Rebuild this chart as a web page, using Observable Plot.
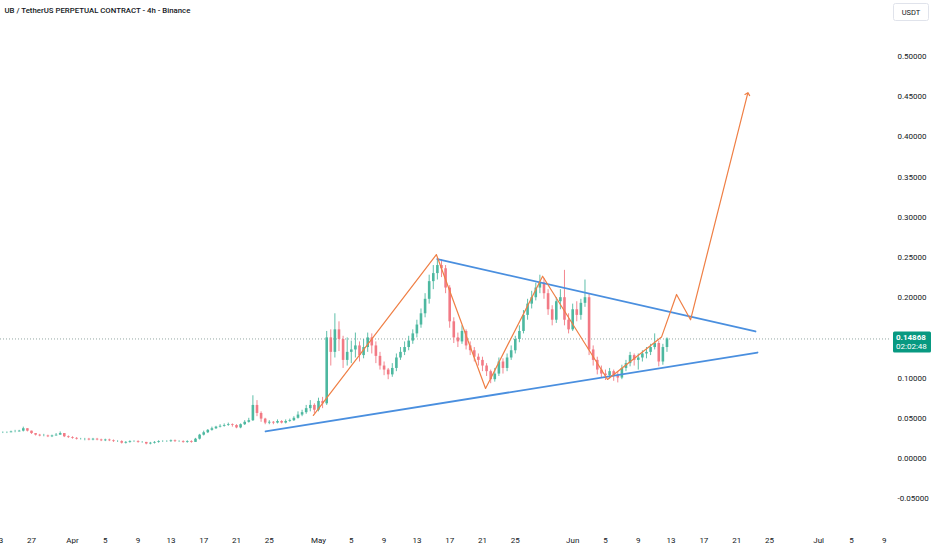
<!DOCTYPE html>
<html>
<head>
<meta charset="utf-8">
<script src="https://cdn.jsdelivr.net/npm/d3@7"></script>
<script src="https://cdn.jsdelivr.net/npm/@observablehq/plot@0.6"></script>
<style>
  html, body { margin: 0; padding: 0; background: #ffffff; overflow: hidden; }
  #chart { position: relative; width: 932px; height: 550px; }
</style>
</head>
<body>
<div id="chart"></div>
<script>
// ---- DATA (12h candles starting 2025-03-23 00:00 UTC) ----
const title = "UB / TetherUS PERPETUAL CONTRACT - 4h - Binance";
const unitLabel = "USDT";
const countdown = "02:02:48";
const firstOpen = 0.031;
const candleStart = "2025-03-23T00:00:00Z";
const candleHours = 12;

const closes = [
  .032,.032, .032,.033, .033,.034, .037,.034, .031,.029, .028,.028, .027,.028, .029,.031, .027,.026,
  .025,.024, .024,.024, .023,.024, .023,.022, .023,.022, .021,.021, .019,.020, .021,.021, .020,.020,
  .018,.019, .020,.021, .021,.021, .022,.021, .021,.020, .021,.020, .024,.029, .032,.035, .037,.039,
  .040,.041, .042,.041, .038,.042, .045,.047, .066,.056, .049,.044, .045,.044, .046,.044, .046,.047,
  .050,.054, .057,.062, .066,.060,
  .071,.068, .150,.132, .160,.148, .122,.132, .135,.140, .128,.138, .150,.140, .127,.115, .110,.104,
  .112,.125, .132,.138, .146,.155, .166,.180, .198,.220, .230,.240, .236,.212, .170,.150, .145,.158,
  .140,.134, .126,.122, .115,.108, .098,.105, .120,.112, .125,.134, .148,.158, .178,.192, .200,.212,
  .218,.205, .185,.172, .195,.200, .172,.160,
  .185,.178, .193,.200, .135,.122, .110,.105, .103,.108, .103,.100, .112,.118, .128,.122, .125,.130,
  .132,.138, .143,.120, .138,.14868
];
const highs = [
  .034,.033, .033,.034, .035,.035, .039,.037, .034,.031, .030,.030, .029,.029, .031,.033, .031,.028,
  .027,.026, .025,.025, .025,.025, .025,.024, .024,.024, .023,.022, .022,.021, .022,.022, .022,.021,
  .020,.020, .021,.022, .022,.022, .023,.023, .022,.022, .022,.022, .025,.030, .034,.036, .039,.040,
  .042,.043, .044,.043, .042,.043, .047,.050, .078,.072, .058,.050, .047,.046, .048,.047, .048,.049,
  .052,.058, .060,.066, .072,.068,
  .075,.076, .158,.160, .180,.170, .152,.150, .146,.156, .145,.148, .156,.155, .145,.132, .120,.112,
  .118,.130, .138,.145, .152,.160, .172,.186, .205,.228, .240,.248, .247,.240, .215,.175, .156,.165,
  .160,.145, .138,.130, .126,.118, .110,.112, .125,.124, .130,.140, .152,.165, .184,.198, .208,.218,
  .228,.224, .210,.190, .200,.210, .234,.180,
  .192,.195, .198,.222, .205,.140, .126,.115, .110,.112, .110,.108, .116,.122, .132,.130, .130,.134,
  .138,.142, .155,.146, .142,.150
];
const lows = [
  .031,.031, .031,.032, .032,.033, .033,.033, .030,.028, .027,.027, .026,.026, .028,.029, .026,.025,
  .024,.023, .023,.022, .022,.022, .022,.021, .021,.021, .020,.020, .018,.018, .019,.020, .019,.019,
  .017,.017, .018,.019, .020,.020, .020,.020, .020,.019, .019,.019, .020,.023, .028,.031, .034,.036,
  .038,.039, .040,.039, .037,.037, .041,.044, .046,.052, .045,.042, .042,.042, .043,.043, .043,.045,
  .046,.049, .052,.055, .058,.056,
  .058,.062, .066,.115, .125,.133, .112,.115, .118,.125, .120,.124, .132,.130, .118,.110, .103,.098,
  .101,.108, .122,.128, .134,.142, .150,.162, .175,.192, .210,.222, .225,.205, .162,.143, .138,.142,
  .135,.128, .120,.115, .108,.102, .093,.095, .102,.105, .108,.122, .130,.144, .155,.172, .186,.196,
  .205,.198, .178,.165, .168,.185, .165,.155,
  .158,.170, .172,.188, .128,.115, .104,.100, .097,.099, .096,.094, .098,.108, .114,.115, .110,.120,
  .124,.128, .135,.114, .116,.132
];

// Drawings (trend lines & projected path)
const zigDates  = ["2025-04-30T09:00Z","2025-05-15T09:00Z","2025-05-21T09:00Z","2025-05-28T08:00Z","2025-06-05T06:00Z","2025-06-11T20:00Z","2025-06-13T16:00Z","2025-06-15T09:00Z","2025-06-22T08:00Z"];
const zigValues = [0.0535, 0.2537, 0.0871, 0.2267, 0.0983, 0.1510, 0.2040, 0.1725, 0.4536];
const upperDates  = ["2025-05-15T12:00Z","2025-06-23T07:00Z"];
const upperValues = [0.2481, 0.1580];
const lowerDates  = ["2025-04-24T13:00Z","2025-06-23T13:00Z"];
const lowerValues = [0.0336, 0.1318];

const xTickDates = ["2025-03-23","2025-03-27","2025-04-01","2025-04-05","2025-04-09","2025-04-13","2025-04-17","2025-04-21","2025-04-25",
  "2025-05-01","2025-05-05","2025-05-09","2025-05-13","2025-05-17","2025-05-21","2025-05-25",
  "2025-06-01","2025-06-05","2025-06-09","2025-06-13","2025-06-17","2025-06-21","2025-06-25",
  "2025-07-01","2025-07-05","2025-07-09"];
const monthNames = ["Jan","Feb","Mar","Apr","May","Jun","Jul","Aug","Sep","Oct","Nov","Dec"];
const yTicks = [-0.05, 0, 0.05, 0.10, 0.20, 0.25, 0.30, 0.35, 0.40, 0.45, 0.50];
const xDomain = ["2025-03-23T05:16:00Z", "2025-07-09T18:14:00Z"];
const yDomain = [-0.0871, 0.5697];

// ---- BUILD ----
const t0 = new Date(candleStart).getTime();
const candles = closes.map((c, i) => ({
  t: new Date(t0 + i * candleHours * 3600e3),
  open: i === 0 ? firstOpen : closes[i - 1],
  close: c, high: highs[i], low: lows[i]
}));
const lastPrice = closes[closes.length - 1];
const upColor = "#4db8a0", downColor = "#f27a85";
const col = d => d.close >= d.open ? upColor : downColor;
const zig = zigDates.map((d, i) => ({t: new Date(d), v: zigValues[i]}));
const upper = upperDates.map((d, i) => ({t: new Date(d), v: upperValues[i]}));
const lower = lowerDates.map((d, i) => ({t: new Date(d), v: lowerValues[i]}));
const xTicks = xTickDates.map(d => new Date(d + "T00:00:00Z"));

const font = "Roboto, 'Liberation Sans', sans-serif";
const plot = Plot.plot({
  width: 932, height: 550,
  marginLeft: 0, marginRight: 42, marginTop: 0, marginBottom: 22,
  style: {fontFamily: font, fontSize: "8px", color: "#131722", background: "#ffffff", overflow: "hidden"},
  x: {type: "utc", domain: xDomain.map(d => new Date(d)), label: null},
  y: {domain: yDomain, label: null},
  marks: [
    Plot.ruleY([lastPrice], {stroke: "#93a8a4", strokeWidth: 1, strokeDasharray: "1,2"}),
    Plot.ruleX(candles, {x: "t", y1: "low", y2: "high", stroke: col, strokeWidth: 0.9}),
    Plot.ruleX(candles, {x: "t", y1: "open", y2: "close", stroke: col, strokeWidth: 2.6}),
    Plot.line(lower, {x: "t", y: "v", stroke: "#4a8fdf", strokeWidth: 1.8}),
    Plot.line(upper, {x: "t", y: "v", stroke: "#4a8fdf", strokeWidth: 1.8}),
    Plot.line(zig, {x: "t", y: "v", stroke: "#ef7f45", strokeWidth: 1.2, markerEnd: "arrow"}),
    Plot.axisX({ticks: xTicks, tickSize: 0, tickPadding: 9, fontSize: 8, fill: "#131722", label: null,
      tickFormat: d => d.getUTCDate() === 1 ? monthNames[d.getUTCMonth()] : String(d.getUTCDate())}),
    Plot.axisY({anchor: "right", ticks: yTicks, tickSize: 0, tickPadding: 7, fontSize: 8, fill: "#131722", label: null,
      tickFormat: d => d.toFixed(5)}),
    Plot.text([title], {frameAnchor: "top-left", text: d => d, dx: 4, dy: 7, fontSize: 7.8, fontWeight: 500, fill: "#131722", textAnchor: "start"})
  ]
});
document.getElementById("chart").appendChild(plot);

// Price label and unit box (positioned through the plot's scales)
const svg = d3.select(plot);
const yS = plot.scale("y");
const py = yS.apply(lastPrice);
const g = svg.append("g").attr("font-family", font).attr("text-anchor", "start");
g.append("rect").attr("x", 893).attr("y", py - 7).attr("width", 38).attr("height", 21).attr("rx", 1.5).attr("fill", "#089981");
g.append("text").attr("x", 896).attr("y", py + 2).attr("text-anchor", "start").attr("font-size", 8).attr("font-weight", "bold").attr("fill", "#ffffff").text(lastPrice.toFixed(5));
g.append("text").attr("x", 896).attr("y", py + 11).attr("text-anchor", "start").attr("font-size", 8).attr("fill", "#ffffff").text(countdown);
g.append("rect").attr("x", 893.5).attr("y", 3.5).attr("width", 35).attr("height", 17).attr("rx", 2).attr("fill", "#ffffff").attr("stroke", "#e0e3eb");
g.append("text").attr("x", 911).attr("y", 15).attr("text-anchor", "middle").attr("font-size", 7.5).attr("fill", "#131722").text(unitLabel);
</script>
</body>
</html>
